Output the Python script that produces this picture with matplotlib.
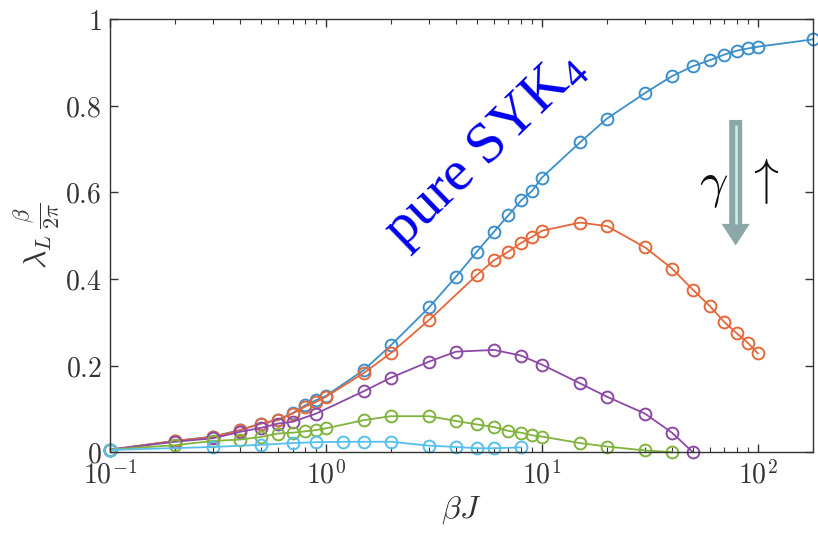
import matplotlib
matplotlib.use("Agg")
import matplotlib.pyplot as plt
from matplotlib.patches import FancyArrow
from matplotlib.ticker import FixedLocator, LogLocator, NullFormatter, FixedFormatter

plt.rcParams['mathtext.fontset'] = 'cm'
plt.rcParams['mathtext.rm'] = 'Liberation Serif'
plt.rcParams['mathtext.it'] = 'Liberation Serif:italic'
plt.rcParams['font.family'] = ['DejaVu Serif']

# ---- data ----
bj_blue = [0.1, 0.2, 0.3, 0.4, 0.5, 0.6, 0.7, 0.8, 0.9, 1, 1.5, 2, 3, 4, 5, 6, 7, 8, 9, 10,
           15, 20, 30, 40, 50, 60, 70, 80, 90, 100, 180]
lam_blue = [0.005, 0.026, 0.036, 0.051, 0.066, 0.075, 0.090, 0.108, 0.120, 0.130, 0.190, 0.247,
            0.334, 0.405, 0.463, 0.509, 0.547, 0.581, 0.603, 0.634, 0.715, 0.770, 0.829, 0.868,
            0.891, 0.905, 0.918, 0.927, 0.932, 0.936, 0.953]

bj_orange = [0.1, 0.2, 0.3, 0.4, 0.5, 0.6, 0.7, 0.8, 0.9, 1, 1.5, 2, 3, 5, 6, 7, 8, 9, 10,
             15, 20, 30, 40, 50, 60, 70, 80, 90, 100]
lam_orange = [0.006, 0.026, 0.035, 0.051, 0.066, 0.074, 0.089, 0.105, 0.116, 0.128, 0.183, 0.229,
              0.305, 0.409, 0.443, 0.463, 0.483, 0.497, 0.511, 0.530, 0.522, 0.473, 0.424, 0.375,
              0.337, 0.300, 0.274, 0.252, 0.228]

bj_purple = [0.1, 0.2, 0.3, 0.4, 0.5, 0.6, 0.7, 0.9, 1.5, 2, 3, 4, 6, 8, 10, 15, 20, 30, 40, 50]
lam_purple = [0.006, 0.024, 0.032, 0.047, 0.056, 0.066, 0.070, 0.089, 0.141, 0.172, 0.209, 0.232,
              0.236, 0.223, 0.202, 0.159, 0.128, 0.089, 0.045, 0.0]

bj_green = [0.1, 0.2, 0.3, 0.4, 0.5, 0.6, 0.7, 0.8, 0.9, 1, 1.5, 2, 3, 4, 5, 6, 7, 8, 9, 10,
            15, 20, 30, 40]
lam_green = [0.006, 0.016, 0.026, 0.029, 0.035, 0.043, 0.045, 0.048, 0.051, 0.055, 0.074, 0.083,
             0.083, 0.072, 0.064, 0.058, 0.049, 0.045, 0.039, 0.036, 0.021, 0.013, 0.004, 0.0]

bj_cyan = [0.1, 0.3, 0.5, 0.7, 0.9, 1.2, 1.5, 2, 3, 4, 5, 6, 8]
lam_cyan = [0.005, 0.012, 0.017, 0.021, 0.023, 0.024, 0.024, 0.024, 0.015, 0.012, 0.009, 0.009, 0.011]

series = [
    (bj_blue, lam_blue, '#3b8fcc'),
    (bj_orange, lam_orange, '#e4683a'),
    (bj_purple, lam_purple, '#8c49a6'),
    (bj_green, lam_green, '#80b43c'),
    (bj_cyan, lam_cyan, '#55c0ee'),
]

yticks = [0, 0.2, 0.4, 0.6, 0.8, 1]
ytick_labels = ['$0$', '$0.2$', '$0.4$', '$0.6$', '$0.8$', '$1$']
xticks = [0.1, 1, 10, 100]
xtick_labels = ['$10^{-1}$', '$10^{0}$', '$10^{1}$', '$10^{2}$']

fig = plt.figure(figsize=(8.18, 5.37), dpi=100)
ax = fig.add_axes([0.1345, 0.158, 0.8594, 0.8066])

for x, y, c in series:
    ax.plot(x, y, '-o', color=c, lw=1.3, markersize=8.5, mfc='none', mew=1.4, clip_on=False)

ax.set_xscale('log')
ax.set_xlim(0.1, 180)
ax.set_ylim(0, 1)

ax.xaxis.set_major_locator(FixedLocator(xticks))
ax.xaxis.set_major_formatter(FixedFormatter(xtick_labels))
ax.xaxis.set_minor_locator(LogLocator(base=10, subs=range(2, 10)))
ax.xaxis.set_minor_formatter(NullFormatter())
ax.yaxis.set_major_locator(FixedLocator(yticks))
ax.yaxis.set_major_formatter(FixedFormatter(ytick_labels))

ax.tick_params(which='both', direction='in', top=True, right=True, colors='#333333',
               labelcolor='#333333')
ax.tick_params(which='major', length=6, width=1, labelsize=20, pad=6)
ax.tick_params(which='minor', length=3.5, width=0.8)
for s in ax.spines.values():
    s.set_color('#333333')
    s.set_linewidth(1.0)

ax.set_xlabel(r'$\beta J$', fontsize=23, color='#333333', labelpad=4)
ax.set_ylabel(r'$\lambda_L\,\frac{\beta}{2\pi}$', fontsize=23, color='#333333', labelpad=2)

# annotation text (Times-like roman via custom mathtext fontset)
ax.text(0.533, 0.698, r'$\mathrm{pure\ SYK}_\mathrm{4}$', transform=ax.transAxes, rotation=44,
        fontsize=42, color='#0000ee', ha='center', va='center', math_fontfamily='custom')

# gamma arrow
arr = FancyArrow(0.890, 0.767, 0, -0.290, width=0.0185, head_width=0.040, head_length=0.050,
                 length_includes_head=True, transform=ax.transAxes, color='#8ca7aa', lw=0)
ax.add_patch(arr)
ax.plot([0.890, 0.890], [0.755, 0.527], transform=ax.transAxes, color='#d4ebed', lw=1.8,
        solid_capstyle='butt')
ax.text(0.858, 0.615, r'$\gamma$', transform=ax.transAxes, fontsize=36, ha='center',
        va='center', color='#111111')
ax.text(0.928, 0.625, r'$\uparrow$', transform=ax.transAxes, fontsize=36, ha='center',
        va='center', color='#111111')

fig.savefig('out.png', dpi=100)
